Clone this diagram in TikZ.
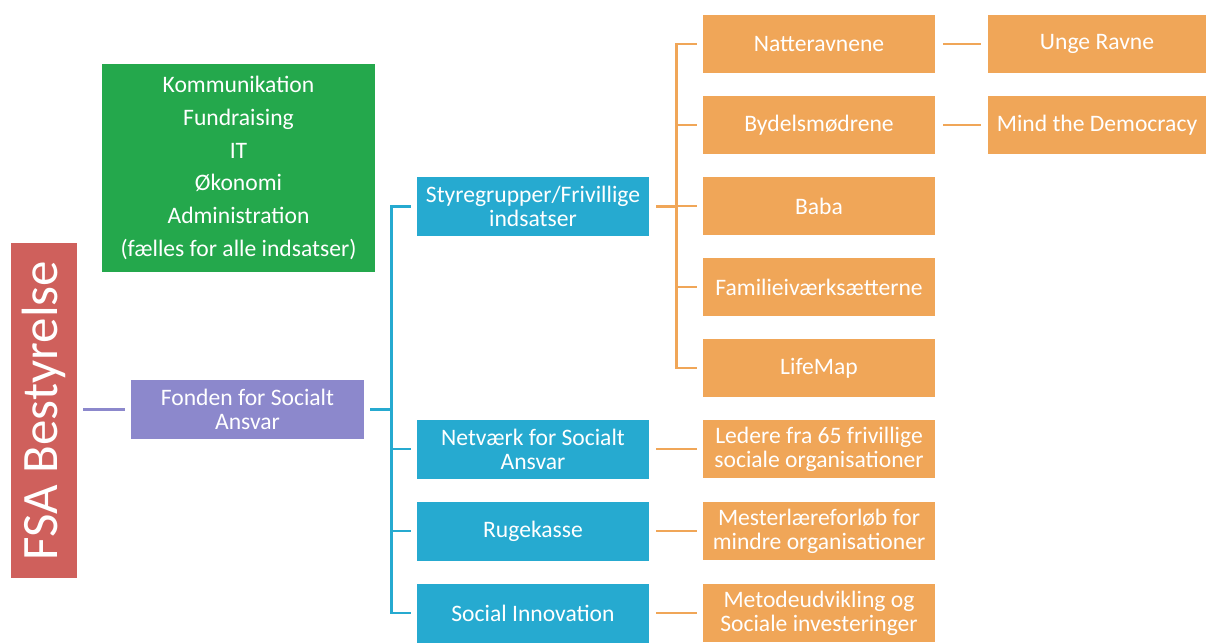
\documentclass[tikz,border=0pt]{standalone}
\usepackage{fontspec}
\setmainfont{Carlito}
\usetikzlibrary{positioning}

\definecolor{fsared}{RGB}{207,96,92}
\definecolor{fsagreen}{RGB}{36,168,76}
\definecolor{fsapurple}{RGB}{140,136,204}
\definecolor{fsablue}{RGB}{38,170,208}
\definecolor{fsaorange}{RGB}{240,166,88}

\tikzset{
  box/.style={text=white, inner sep=2pt, align=center,
    font=\fontsize{11.8}{12}\selectfont},
  bluebox/.style={box, fill=fsablue, minimum width=116pt, minimum height=29.5pt},
  orangebox/.style={box, fill=fsaorange, minimum width=116pt, minimum height=29pt},
  link/.style={line width=1.2pt}
}

\begin{document}
\begin{tikzpicture}[x=0.5pt,y=-0.5pt,node distance=40.5pt,on grid]
  \useasboundingbox (0,0) rectangle (1208,643);

  \node[box, fill=fsared, rotate=90, minimum width=167.5pt, minimum height=33pt,
        font=\fontsize{25.5}{28}\selectfont] (fsa) at (44,410.5) {FSA Bestyrelse};
  \node[box, fill=fsagreen, minimum width=136.5pt, minimum height=104pt,
        font=\fontsize{11.8}{16.4}\selectfont] (adm) at (238.5,168)
        {Kommunikation\\Fundraising\\IT\\Økonomi\\Administration\\(fælles for alle indsatser)};
  \node[box, fill=fsapurple, minimum width=116.5pt, minimum height=29.5pt] (fond) at (247.5,409.5)
        {Fonden for Socialt\\Ansvar};

  % styregrupper og projekter
  \node[bluebox] (sty) at (533,206.5) {Styregrupper/Frivillige\\indsatser};
  \node[bluebox] (net) at (533,449) {Netværk for Socialt\\Ansvar};
  \node[bluebox] (ruge) [below=41pt of net] {Rugekasse};
  \node[bluebox] (soc) [below=41pt of ruge] {Social Innovation};

  \node[orangebox] (nat) at (819,44) {Natteravnene};
  \node[orangebox] (byd) [below=of nat] {Bydelsmødrene};
  \node[orangebox] (baba) [below=of byd] {Baba};
  \node[orangebox] (fam) [below=of baba] {Familieiværksætterne};
  \node[orangebox] (life) [below=of fam] {LifeMap};

  \node[orangebox, minimum width=109pt] (unge) [right=139pt of nat] {Unge Ravne};
  \node[orangebox, minimum width=109pt] (mind) [right=139pt of byd] {Mind the Democracy};

  \node[orangebox] (led) [right=143pt of net] {Ledere fra 65 frivillige\\sociale organisationer};
  \node[orangebox] (mest) [right=143pt of ruge] {Mesterlæreforløb for\\mindre organisationer};
  \node[orangebox] (met) [right=143pt of soc] {Metodeudvikling og\\Sociale investeringer};

  % forbindelser
  \draw[link, fsapurple] ([xshift=3pt]fsa.south |- fond.west) -- ([xshift=-3pt]fond.west);

  \draw[link, fsablue] ([xshift=3pt]fond.east) -- ++(10.5pt,0) coordinate (bbus);
  \foreach \n in {sty,net,ruge,soc}
    \draw[link, fsablue] (bbus) |- ([xshift=-3pt]\n.west);

  \draw[link, fsaorange] ([xshift=3.5pt]sty.east) -- ++(10pt,0) coordinate (obus);
  \foreach \n in {nat,byd,baba,fam,life}
    \draw[link, fsaorange] (obus) |- ([xshift=-3pt]\n.west);

  \foreach \a/\b in {net/led,ruge/mest,soc/met}
    \draw[link, fsaorange, shorten >=3pt, shorten <=3.5pt] (\a) -- (\b);
  \foreach \a/\b in {nat/unge,byd/mind}
    \draw[link, fsaorange, shorten >=3.5pt, shorten <=4pt] (\a) -- (\b);
\end{tikzpicture}
\end{document}
